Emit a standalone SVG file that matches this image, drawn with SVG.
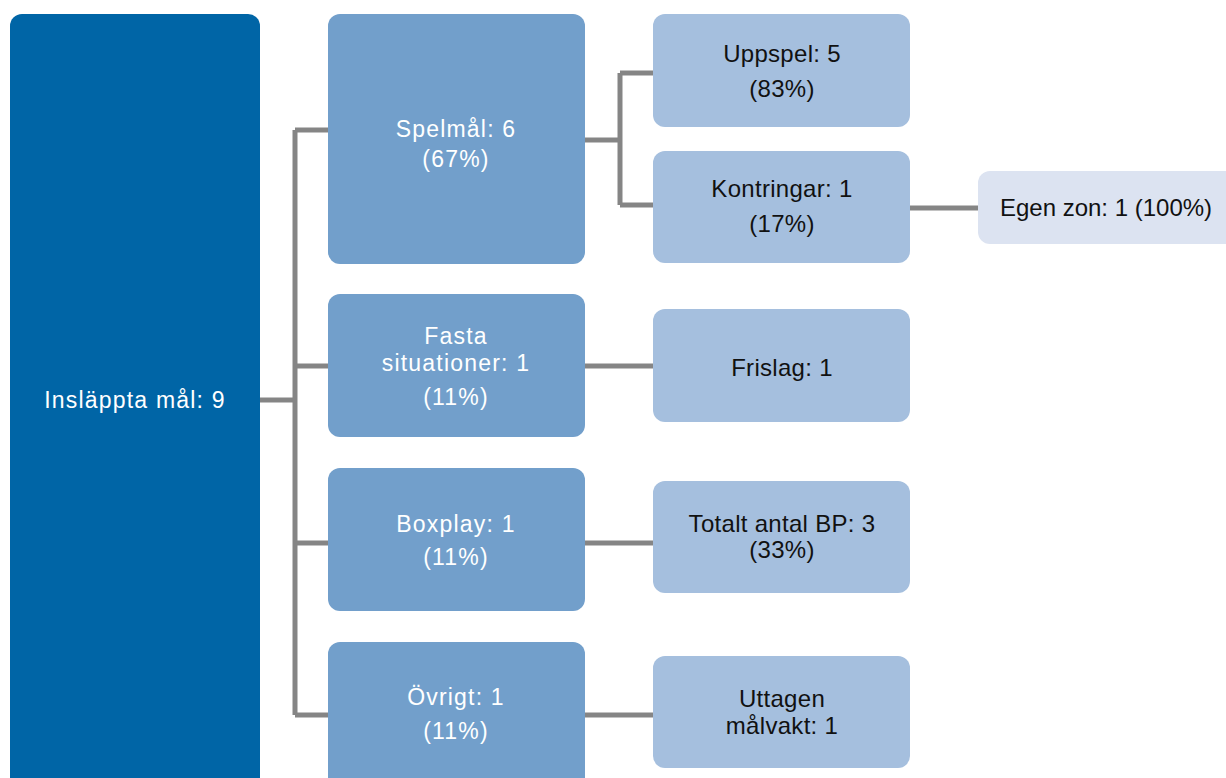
<svg xmlns="http://www.w3.org/2000/svg" width="1226" height="778" viewBox="0 0 1226 778">
<style>
.l0{fill:#0065A6}
.l1{fill:#729FCB}
.l2{fill:#A5BFDE}
.l3{fill:#DCE3F1}
.w{fill:#fff;font-family:"Liberation Sans",Arial,sans-serif;font-size:23px;letter-spacing:1.2px;text-anchor:middle}
.b{fill:#111;font-family:"Liberation Sans",Arial,sans-serif;font-size:24px;letter-spacing:0.3px;text-anchor:middle}
.c{fill:none;stroke:#858585;stroke-width:5}
</style>
<rect width="1226" height="778" fill="#fff"/>
<g id="connectors">
<path class="c" d="M260 400H295M295 130V715M295 130H328M295 366H328M295 543H328M295 715H328"/>
<path class="c" d="M585 140H620M620 73V205M620 73H653M620 205H653"/>
<path class="c" d="M910 208H978"/>
<path class="c" d="M585 366H653M585 543H653M585 715H653"/>
</g>
<g id="n-root"><rect class="l0" x="10" y="14" width="250" height="780" rx="12"/><text class="w" x="135" y="408">Insläppta mål: 9</text></g>
<g id="n-spelmal"><rect class="l1" x="328" y="14" width="257" height="250" rx="12"/><text class="w" x="456" y="137">Spelmål: 6</text><text class="w" x="456" y="167">(67%)</text></g>
<g id="n-fasta"><rect class="l1" x="328" y="294" width="257" height="143" rx="12"/><text class="w" x="456" y="344">Fasta</text><text class="w" x="456" y="371">situationer: 1</text><text class="w" x="456" y="405">(11%)</text></g>
<g id="n-boxplay"><rect class="l1" x="328" y="468" width="257" height="143" rx="12"/><text class="w" x="456" y="532">Boxplay: 1</text><text class="w" x="456" y="565">(11%)</text></g>
<g id="n-ovrigt"><rect class="l1" x="328" y="642" width="257" height="150" rx="12"/><text class="w" x="456" y="705">Övrigt: 1</text><text class="w" x="456" y="739">(11%)</text></g>
<g id="n-uppspel"><rect class="l2" x="653" y="14" width="257" height="113" rx="12"/><text class="b" x="782" y="62">Uppspel: 5</text><text class="b" x="782" y="97">(83%)</text></g>
<g id="n-kontringar"><rect class="l2" x="653" y="151" width="257" height="112" rx="12"/><text class="b" x="782" y="197">Kontringar: 1</text><text class="b" x="782" y="232">(17%)</text></g>
<g id="n-egen"><rect class="l3" x="978" y="171" width="260" height="73" rx="12"/><text class="b" x="1106" y="216" style="letter-spacing:0">Egen zon: 1 (100%)</text></g>
<g id="n-frislag"><rect class="l2" x="653" y="309" width="257" height="113" rx="12"/><text class="b" x="782" y="376">Frislag: 1</text></g>
<g id="n-totalt"><rect class="l2" x="653" y="481" width="257" height="112" rx="12"/><text class="b" x="782" y="532">Totalt antal BP: 3</text><text class="b" x="782" y="558">(33%)</text></g>
<g id="n-uttagen"><rect class="l2" x="653" y="656" width="257" height="112" rx="12"/><text class="b" x="782" y="707">Uttagen</text><text class="b" x="782" y="734">målvakt: 1</text></g>
</svg>
